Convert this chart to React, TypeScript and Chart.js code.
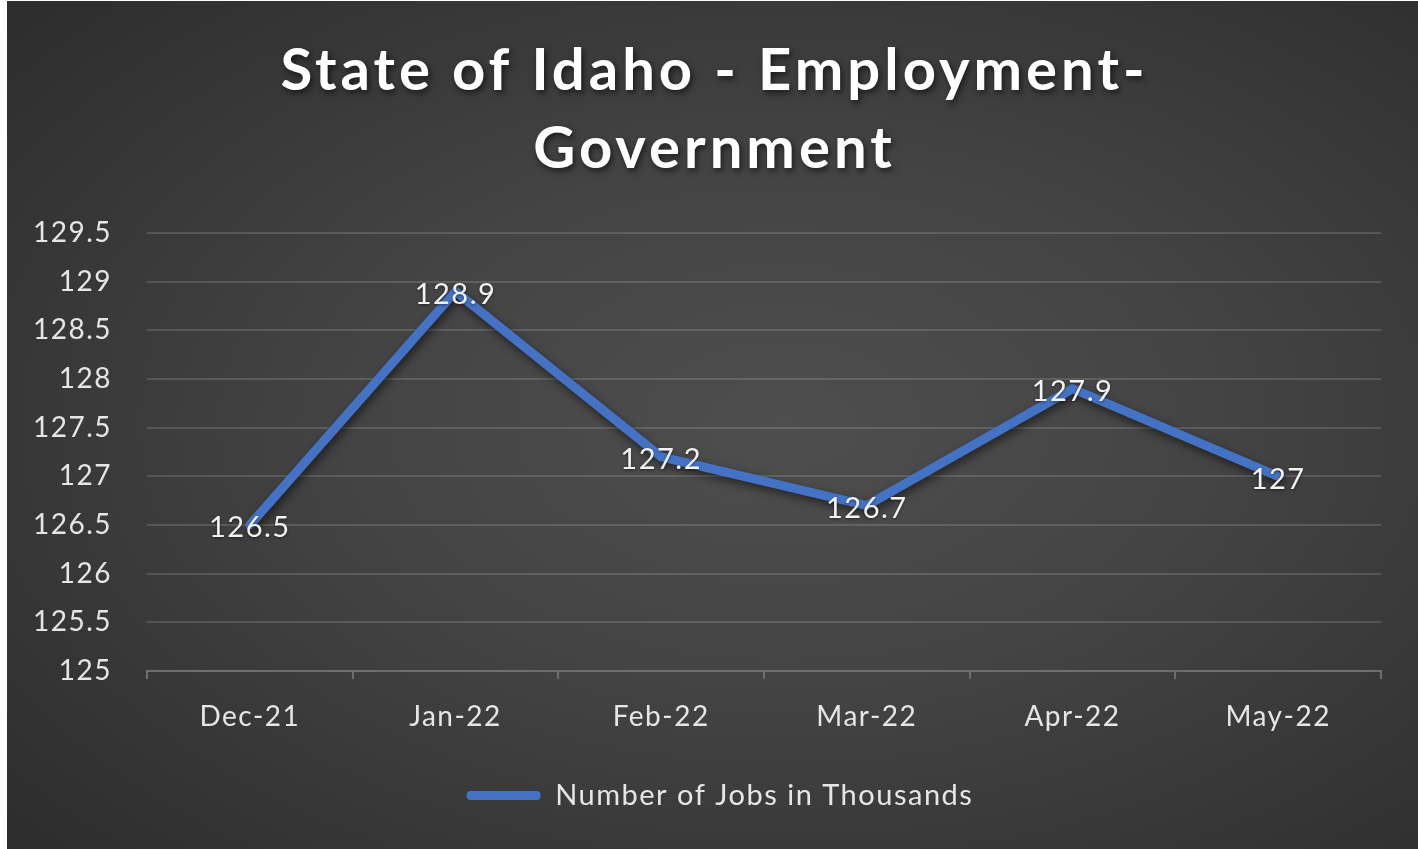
import { useEffect, useRef } from "react";
import { Chart, registerables } from "chart.js";
Chart.register(...registerables);

const categories = ["Dec-21", "Jan-22", "Feb-22", "Mar-22", "Apr-22", "May-22"];
const jobs = [126.5, 128.9, 127.2, 126.7, 127.9, 127];
const seriesName = "Number of Jobs in Thousands";
const titleLines = ["State of Idaho - Employment-", "Government"];
const yMin = 125;
const yMax = 129.5;
const yStep = 0.5;

const FONT = "Lato, 'Open Sans', sans-serif";
const LINE_COLOR = "#4472C4";

const spacingPlugin = {
  id: "letterSpacing",
  beforeInit(chart: any) {
    chart.ctx.letterSpacing = "1.5px";
  },
  beforeLayout(chart: any) {
    chart.ctx.letterSpacing = "1.5px";
  },
  beforeDraw(chart: any) {
    chart.ctx.letterSpacing = "1.5px";
  },
};

const titlePlugin = {
  id: "customTitle",
  afterDraw(chart: any) {
    const ctx = chart.ctx;
    ctx.save();
    ctx.font = `bold 58px ${FONT}`;
    (ctx as any).letterSpacing = "4px";
    ctx.fillStyle = "#ffffff";
    ctx.textAlign = "center";
    ctx.textBaseline = "middle";
    ctx.shadowColor = "rgba(0,0,0,0.6)";
    ctx.shadowBlur = 6;
    ctx.shadowOffsetX = 2;
    ctx.shadowOffsetY = 3;
    titleLines.forEach((l, i) => ctx.fillText(l, chart.width / 2 + 2, 70 + i * 78));
    ctx.restore();
  },
};

const shadowPlugin = {
  id: "lineShadow",
  beforeDatasetsDraw(chart: any) {
    const ctx = chart.ctx;
    ctx.save();
    ctx.shadowColor = "rgba(0,0,0,0.55)";
    ctx.shadowBlur = 8;
    ctx.shadowOffsetX = 2;
    ctx.shadowOffsetY = 4;
  },
  afterDatasetsDraw(chart: any) {
    chart.ctx.restore();
    const ctx = chart.ctx;
    const meta = chart.getDatasetMeta(0);
    ctx.save();
    ctx.font = `29px ${FONT}`;
    ctx.fillStyle = "#f2f2f2";
    ctx.textAlign = "center";
    ctx.textBaseline = "middle";
    ctx.shadowColor = "rgba(0,0,0,0.5)";
    ctx.shadowBlur = 3;
    ctx.shadowOffsetY = 1;
    meta.data.forEach((pt: any, i: number) => {
      ctx.fillText(String(jobs[i]), pt.x, pt.y + 3);
    });
    ctx.restore();
  },
};

export default function App() {
  const ref = useRef<HTMLCanvasElement | null>(null);
  useEffect(() => {
    if (!ref.current) return;
    const chart = new Chart(ref.current, {
      type: "line",
      data: {
        labels: categories,
        datasets: [
          {
            label: seriesName,
            data: jobs,
            borderColor: LINE_COLOR,
            backgroundColor: LINE_COLOR,
            borderWidth: 9,
            pointRadius: 0,
            borderCapStyle: "round",
            borderJoinStyle: "miter",
            tension: 0,
          },
        ],
      },
      options: {
        responsive: false,
        animation: false,
        layout: { padding: { top: 232, right: 37, left: 52, bottom: 29 } },
        plugins: {
          title: { display: false },
          tooltip: { enabled: false },
          legend: {
            position: "bottom",
            labels: {
              color: "#e6e6e6",
              font: { family: FONT, size: 29 },
              padding: 30,
              boxWidth: 74,
              boxHeight: 9,
              generateLabels: () => [
                {
                  text: seriesName,
                  fillStyle: LINE_COLOR,
                  strokeStyle: LINE_COLOR,
                  lineWidth: 0,
                  borderRadius: 4,
                  fontColor: "#e6e6e6",
                  datasetIndex: 0,
                } as any,
              ],
            },
          },
        },
        scales: {
          x: {
            offset: true,
            grid: {
              display: true,
              drawOnChartArea: false,
              drawTicks: true,
              tickLength: 8,
              color: "#6e6e6e",
              lineWidth: 2,
              offset: true,
            },
            border: { display: true, color: "#6e6e6e", width: 2 },
            ticks: {
              color: "#e6e6e6",
              font: { family: FONT, size: 28 },
              padding: 21,
              maxRotation: 0,
            },
            afterFit: (s: any) => {
              s.height = 80;
            },
          },
          y: {
            min: yMin,
            max: yMax,
            grid: {
              color: "rgba(255,255,255,0.14)",
              lineWidth: 2,
              drawTicks: false,
            },
            border: { display: false },
            ticks: {
              stepSize: yStep,
              color: "#e6e6e6",
              font: { family: FONT, size: 28 },
              padding: 35,
              callback: (v: any) => String(Number(v)),
            },
            afterFit: (s: any) => {
              s.width = 88;
              s._computeLabelArea = () => undefined;
            },
          },
        },
      },
      plugins: [spacingPlugin, titlePlugin, shadowPlugin],
    });
    return () => chart.destroy();
  }, []);

  return (
    <div
      style={{
        position: "fixed",
        left: 0,
        top: 0,
        width: 1418,
        height: 849,
        background: "#ffffff",
      }}
    >
      <div
        style={{
          position: "absolute",
          left: 7,
          top: 1,
          width: 1411,
          height: 848,
          background:
            "radial-gradient(ellipse 75% 75% at 55% 50%, #4e4e4e 0%, #444444 40%, #2c2c2c 100%)",
        }}
      >
        <canvas ref={ref} width={1411} height={848} style={{ display: "block" }} />
      </div>
    </div>
  );
}
